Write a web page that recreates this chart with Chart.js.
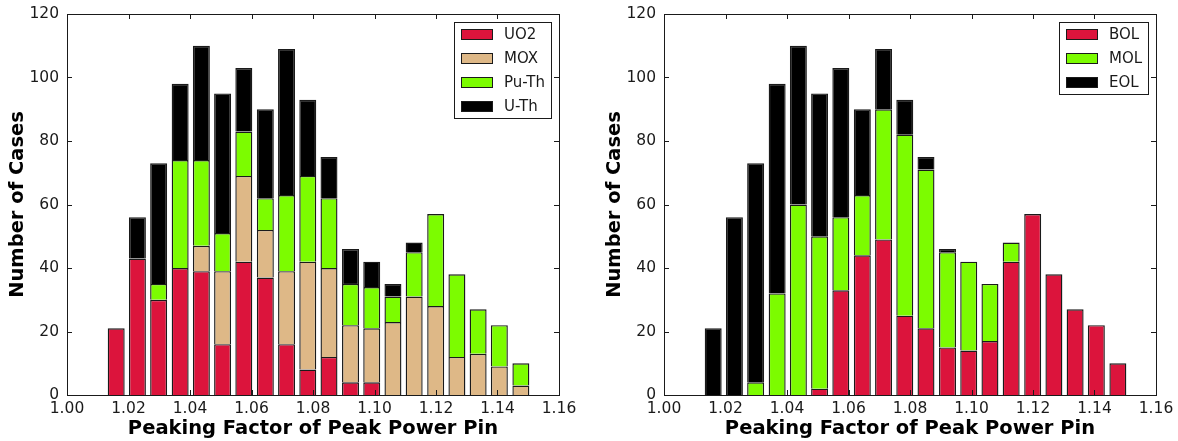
<!DOCTYPE html>
<html lang="en">
<head>
<meta charset="UTF-8">
<title>Peaking factor of peak power pin</title>
<script src="https://cdn.jsdelivr.net/npm/chart.js@4.4.0/dist/chart.umd.min.js"></script>
<style>
  body { margin: 0; background: #fff; }
  #left { position: absolute; left: 0; top: 0; width: 590px; height: 441px; }
  #right { position: absolute; left: 590px; top: 0; width: 588px; height: 441px; }
</style>
</head>
<body>
<div id="left"><canvas id="fuelChart"></canvas></div>
<div id="right"><canvas id="lifeChart"></canvas></div>
<script>
// histogram bin centres (20 bins)
var binCenters = [1.0160, 1.0229, 1.0298, 1.0368, 1.0437, 1.0506, 1.0575, 1.0645, 1.0714, 1.0783,
                  1.0852, 1.0922, 1.0991, 1.1060, 1.1129, 1.1199, 1.1268, 1.1337, 1.1406, 1.1476];

// counts by fuel type
var uo2  = [21, 43, 30, 40, 39, 16, 42, 37, 16,  8, 12,  4,  4,  0,  0,  0,  0,  0,  0,  0];
var mox  = [ 0,  0,  0,  0,  8, 23, 27, 15, 23, 34, 28, 18, 17, 23, 31, 28, 12, 13,  9,  3];
var puTh = [ 0,  0,  5, 34, 27, 12, 14, 10, 24, 27, 22, 13, 13,  8, 14, 29, 26, 14, 13,  7];
var uTh  = [ 0, 13, 38, 24, 36, 44, 20, 28, 46, 24, 13, 11,  8,  4,  3,  0,  0,  0,  0,  0];

// counts by point in life
var bol  = [ 0,  0,  0,  0,  0,  2, 33, 44, 49, 25, 21, 15, 14, 17, 42, 57, 38, 27, 22, 10];
var mol  = [ 0,  0,  4, 32, 60, 48, 23, 19, 41, 57, 50, 30, 28, 18,  6,  0,  0,  0,  0,  0];
var eol  = [21, 56, 69, 66, 50, 45, 47, 27, 19, 11,  4,  1,  0,  0,  0,  0,  0,  0,  0,  0];

var xTicks = [1.00, 1.02, 1.04, 1.06, 1.08, 1.10, 1.12, 1.14, 1.16];
var yTicks = [0, 20, 40, 60, 80, 100, 120];

var RED = '#dc143c', TAN = '#deb887', GREEN = '#7cfc00', BLACK = '#000000';
var INK = '#1a1a1a';

function series(label, color, counts) {
  return {
    label: label,
    backgroundColor: color,
    data: binCenters.map(function (x, i) { return { x: x, y: counts[i] || null }; })
  };
}

// box frame with inward ticks on all four sides
var frameTicks = {
  id: 'frameTicks',
  afterDatasetsDraw: function (chart) {
    var ctx = chart.ctx, a = chart.chartArea;
    var xs = chart.scales.x, ys = chart.scales.y;
    ctx.save();
    ctx.strokeStyle = INK;
    ctx.lineWidth = 1;
    ctx.beginPath();
    xs.ticks.forEach(function (t) {
      var px = Math.round(xs.getPixelForValue(t.value)) + 0.5;
      ctx.moveTo(px, a.bottom); ctx.lineTo(px, a.bottom - 5);
      ctx.moveTo(px, a.top); ctx.lineTo(px, a.top + 5);
    });
    ys.ticks.forEach(function (t) {
      var py = Math.round(ys.getPixelForValue(t.value)) + 0.5;
      ctx.moveTo(a.left, py); ctx.lineTo(a.left + 5, py);
      ctx.moveTo(a.right, py); ctx.lineTo(a.right - 5, py);
    });
    ctx.stroke();
    ctx.strokeRect(Math.round(a.left) + 0.5, Math.round(a.top) + 0.5,
                   Math.round(a.right - a.left), Math.round(a.bottom - a.top));
    ctx.restore();
  }
};

// framed legend in the upper right corner of the plot
var boxLegend = {
  id: 'boxLegend',
  afterDraw: function (chart) {
    var ctx = chart.ctx, a = chart.chartArea, sets = chart.data.datasets;
    ctx.save();
    ctx.font = '15px "DejaVu Sans"';
    var tw = Math.max.apply(null, sets.map(function (d) { return ctx.measureText(d.label).width; }));
    var w = Math.round(50 + tw + 6), h = 24 * sets.length;
    var x0 = Math.round(a.right - 8 - w), y0 = Math.round(a.top + 8);
    ctx.fillStyle = '#fff';
    ctx.fillRect(x0, y0, w, h);
    ctx.strokeStyle = INK;
    ctx.lineWidth = 1;
    ctx.strokeRect(x0 + 0.5, y0 + 0.5, w, h);
    sets.forEach(function (d, i) {
      var cy = y0 + 12 + 24 * i;
      ctx.fillStyle = d.backgroundColor;
      ctx.fillRect(x0 + 7, cy - 5, 32, 11);
      ctx.strokeRect(x0 + 7.5, cy - 4.5, 31, 10);
      ctx.fillStyle = INK;
      ctx.textBaseline = 'middle';
      ctx.fillText(d.label, x0 + 50, cy + 1);
    });
    ctx.restore();
  }
};

function makeChart(id, datasets, padLeft, padRight) {
  return new Chart(document.getElementById(id), {
    type: 'bar',
    data: { datasets: datasets },
    plugins: [frameTicks, boxLegend],
    options: {
      responsive: true,
      maintainAspectRatio: false,
      animation: false,
      layout: { padding: { left: padLeft, right: padRight, top: 14, bottom: 0 } },
      plugins: { legend: { display: false }, tooltip: { enabled: false } },
      datasets: {
        bar: {
          barPercentage: 0.8, categoryPercentage: 1.0,
          borderWidth: 1.4, borderColor: INK, borderSkipped: 'start', inflateAmount: 0
        }
      },
      scales: {
        x: {
          type: 'linear', stacked: true, min: 1.0, max: 1.16, offset: false,
          grid: { display: false, drawTicks: true, tickLength: 5 },
          border: { display: false },
          afterBuildTicks: function (s) { s.ticks = xTicks.map(function (v) { return { value: v }; }); },
          afterFit: function (s) { s.height = 46; },
          ticks: {
            color: INK, padding: 0, maxRotation: 0,
            font: { family: 'DejaVu Sans', size: 15.5 },
            callback: function (v) { return Number(v).toFixed(2); }
          },
          title: {
            display: true, text: 'Peaking Factor of Peak Power Pin', color: '#000',
            font: { family: 'DejaVu Sans', size: 19.5, weight: 'bold' },
            padding: { top: 0, bottom: 0 }
          }
        },
        y: {
          stacked: true, min: 0, max: 120,
          grid: { display: false, drawTicks: true, tickLength: 8 },
          border: { display: false },
          afterBuildTicks: function (s) { s.ticks = yTicks.map(function (v) { return { value: v }; }); },
          afterFit: function (s) { s.width = 67; },
          ticks: {
            color: INK, padding: 0,
            font: { family: 'DejaVu Sans', size: 15.5 }
          },
          title: {
            display: true, text: 'Number of Cases', color: '#000',
            font: { family: 'DejaVu Sans', size: 19.5, weight: 'bold' },
            padding: { top: 6, bottom: 0 }
          }
        }
      }
    }
  });
}

makeChart('fuelChart', [
  series('UO2', RED, uo2),
  series('MOX', TAN, mox),
  series('Pu-Th', GREEN, puTh),
  series('U-Th', BLACK, uTh)
], 0, 31);

makeChart('lifeChart', [
  series('BOL', RED, bol),
  series('MOL', GREEN, mol),
  series('EOL', BLACK, eol)
], 7, 22);
</script>
</body>
</html>
